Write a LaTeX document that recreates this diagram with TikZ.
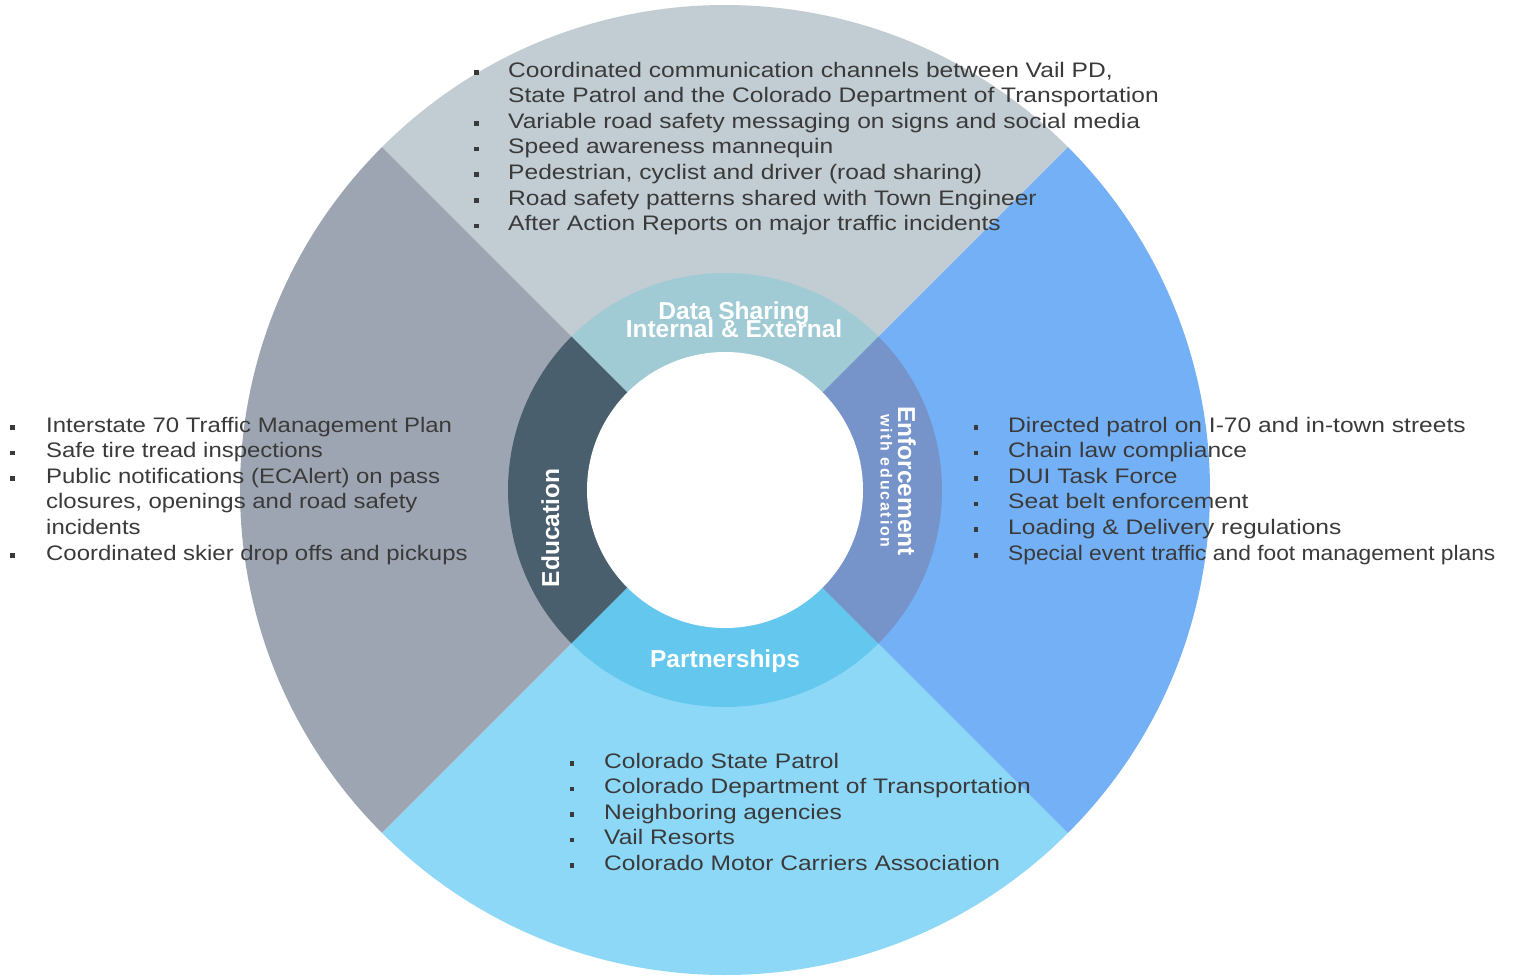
\documentclass[tikz,border=0pt]{standalone}
\usepackage{fontspec}
\setmainfont{Liberation Sans}
\newfontfamily\listfont[FakeStretch=1.17]{Liberation Sans}
\newfontfamily\listfontleft[FakeStretch=1.14]{Liberation Sans}
\newfontfamily\listfontnarrow[FakeStretch=1.085]{Liberation Sans}
\newfontfamily\spacedfont[LetterSpace=11]{Liberation Sans}
\definecolor{otop}{HTML}{C2CCD3}
\definecolor{oright}{HTML}{74B0F5}
\definecolor{obottom}{HTML}{8ED8F7}
\definecolor{oleft}{HTML}{9EA5B2}
\definecolor{itop}{HTML}{A0CBD4}
\definecolor{iright}{HTML}{7693CA}
\definecolor{ibottom}{HTML}{63C7EE}
\definecolor{ileft}{HTML}{4A5F6E}
\definecolor{txt}{HTML}{3A3A3A}
\newcommand\bl[1]{\makebox[#1pt][l]{\rule[2.5pt]{4.5pt}{4.5pt}}}
\begin{document}
\begin{tikzpicture}[x=1pt,y=1pt,
  list/.style={anchor=base west, inner sep=0pt, text=txt, font=\listfont\fontsize{21}{25.6}\selectfont},
  ring/.style={inner sep=0pt, text=white, font=\bfseries\fontsize{24.5}{19}\selectfont},
  ringsmall/.style={inner sep=0pt, text=white, font=\spacedfont\bfseries\fontsize{16}{16}\selectfont}]
\useasboundingbox (0,0) rectangle (1513,-975);
\coordinate (C) at (725,-490);
% outer sectors
\fill[otop]    (C) -- ++(45:485)  arc[start angle=45,  end angle=135, radius=485] -- cycle;
\fill[oleft]   (C) -- ++(135:485) arc[start angle=135, end angle=225, radius=485] -- cycle;
\fill[obottom] (C) -- ++(225:485) arc[start angle=225, end angle=315, radius=485] -- cycle;
\fill[oright]  (C) -- ++(-45:485) arc[start angle=-45, end angle=45,  radius=485] -- cycle;
% inner ring
\fill[itop]    (C) -- ++(45:217)  arc[start angle=45,  end angle=135, radius=217] -- cycle;
\fill[ileft]   (C) -- ++(135:217) arc[start angle=135, end angle=225, radius=217] -- cycle;
\fill[ibottom] (C) -- ++(225:217) arc[start angle=225, end angle=315, radius=217] -- cycle;
\fill[iright]  (C) -- ++(-45:217) arc[start angle=-45, end angle=45,  radius=217] -- cycle;
\fill[white] (C) circle[radius=138];
% ring labels
\node[ring, anchor=base] (ds) at (734,-319) {\begin{tabular}[t]{@{}c@{}}Data Sharing\\[-4.6pt]Internal \& External\end{tabular}};
\node[ring, anchor=base] (pt) at (725,-667) {Partnerships};
\node[ring, anchor=base, rotate=90] (ed) at (559,-528) {Education};
\node[ring, anchor=base, rotate=-90] (en) at (898,-481) {Enforcement};
\node[ringsmall, anchor=base, rotate=-90] (we) at (880.5,-481) {with education};
% lists
\node[list] (toplist) at (474,-77) {\begin{tabular}[t]{@{}l@{}l@{}}
\bl{34} & Coordinated communication channels between Vail PD,\\
 & State Patrol and the Colorado Department of Transportation\\
\bl{34} & Variable road safety messaging on signs and social media\\
\bl{34} & Speed awareness mannequin\\
\bl{34} & Pedestrian, cyclist and driver (road sharing)\\
\bl{34} & Road safety patterns shared with Town Engineer\\
\bl{34} & After Action Reports on major traffic incidents
\end{tabular}};
\node[list, font=\listfontleft\fontsize{21}{25.6}\selectfont] (leftlist) at (10,-432) {\begin{tabular}[t]{@{}l@{}l@{}}
\bl{36} & Interstate 70 Traffic Management Plan\\
\bl{36} & Safe tire tread inspections\\
\bl{36} & Public notifications (ECAlert) on pass\\
 & closures, openings and road safety\\
 & incidents\\
\bl{36} & Coordinated skier drop offs and pickups
\end{tabular}};
\node[list] (rightlist) at (973.5,-432) {\begin{tabular}[t]{@{}l@{}l@{}}
\bl{34.5} & Directed patrol on I-70 and in-town streets\\
\bl{34.5} & Chain law compliance\\
\bl{34.5} & DUI Task Force\\
\bl{34.5} & Seat belt enforcement\\
\bl{34.5} & Loading \& Delivery regulations\\
\bl{34.5} & {\listfontnarrow Special event traffic and foot management plans}
\end{tabular}};
\node[list] (bottomlist) at (569.5,-768) {\begin{tabular}[t]{@{}l@{}l@{}}
\bl{34.5} & Colorado State Patrol\\
\bl{34.5} & Colorado Department of Transportation\\
\bl{34.5} & Neighboring agencies\\
\bl{34.5} & Vail Resorts\\
\bl{34.5} & Colorado Motor Carriers Association
\end{tabular}};
\end{tikzpicture}
\end{document}
